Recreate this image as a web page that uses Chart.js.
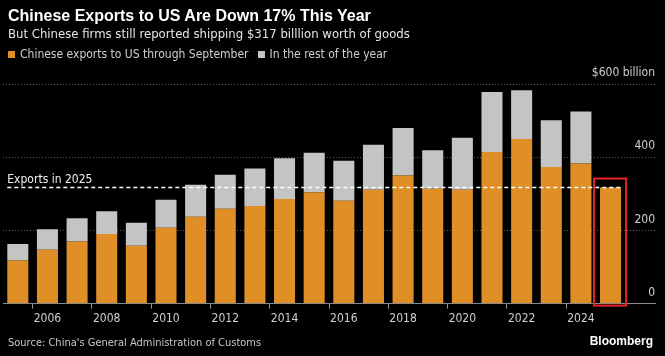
<!DOCTYPE html>
<html><head><meta charset="utf-8">
<script src="https://cdn.jsdelivr.net/npm/chart.js@4.4.1/dist/chart.umd.min.js"></script>
<style>
html,body{margin:0;padding:0;background:#000;}
#wrap{position:relative;width:665px;height:356px;background:#000;overflow:hidden;font-family:"Liberation Sans Narrow","DejaVu Sans Condensed","Roboto",sans-serif;}
#c{position:absolute;left:0;top:0;}
.t{position:absolute;white-space:nowrap;}
</style></head><body>
<div id="wrap">
<canvas id="c" width="665" height="356"></canvas>
<div class="t" style="left:8px;top:7px;font:bold 16px 'Liberation Sans',Arial,sans-serif;color:#fff;">Chinese Exports to US Are Down 17% This Year</div>
<div class="t" style="left:8px;top:26px;font-size:13px;color:#e6e6e6;">But Chinese firms still reported shipping $317 billlion worth of goods</div>
<div class="t" style="left:8px;top:47px;font-size:12px;color:#cfcfcf;"><span style="display:inline-block;width:7px;height:7px;background:#df8f26;margin-right:5px;"></span>Chinese exports to US through September<span style="display:inline-block;width:7px;height:7px;background:#c4c4c4;margin:0 5px 0 9px;"></span>In the rest of the year</div>
<div class="t" style="left:8px;top:336px;font-size:11px;color:#c8c8c8;">Source: China's General Administration of Customs</div>
<div class="t" style="right:12px;top:334px;font:bold 12px 'Liberation Sans',Arial,sans-serif;color:#fff;">Bloomberg</div>
</div>
<script>
const years = ['2005','2006','2007','2008','2009','2010','2011','2012','2013','2014','2015','2016','2017','2018','2019','2020','2021','2022','2023','2024','2025',''];
const throughSeptember = [118,147,170,190,158,207,237,259,267,286,304,281,311,350,314,311,414,450,373,383,317,null];
const restOfYear = [45,56,63,62,63,77,88,93,102,111,108,109,123,130,105,142,164,133,128,142,null,null];
const yTicks = [0,200,400,600];
const yTickLabels = ['0','200','400','$600 billion'];
const exports2025 = 317;
const FONT = '"Liberation Sans Narrow","DejaVu Sans Condensed",Roboto,sans-serif';

const overlay = {
  id:'overlay',
  afterDatasetsDraw(chart){
    const {ctx, scales:{x,y}} = chart;
    const meta = chart.getDatasetMeta(0);
    const first = meta.data[0], last = meta.data[20];
    const y317 = y.getPixelForValue(exports2025);
    ctx.save();
    ctx.strokeStyle = '#ffffff';
    ctx.lineWidth = 1.5;
    ctx.setLineDash([4,3]);
    ctx.beginPath();
    ctx.moveTo(first.x - first.width/2, y317);
    ctx.lineTo(last.x + last.width/2, y317);
    ctx.stroke();
    ctx.setLineDash([]);
    ctx.fillStyle = '#f0f0f0';
    ctx.font = '12px ' + FONT;
    ctx.textAlign = 'left';
    ctx.textBaseline = 'alphabetic';
    ctx.fillText('Exports in 2025', first.x - first.width/2, y317 - 5);
    ctx.strokeStyle = '#e8212a';
    ctx.lineWidth = 2;
    const bx0 = last.x - last.width/2 - 6, bx1 = last.x + last.width/2 + 5;
    ctx.strokeRect(bx0, y317 - 9, bx1 - bx0, y.getPixelForValue(0) + 2 - (y317 - 9));
    ctx.fillStyle = '#cfcfcf';
    ctx.font = '12px ' + FONT;
    ctx.textAlign = 'right';
    ctx.textBaseline = 'middle';
    yTicks.forEach((v,i)=>{
      ctx.fillText(yTickLabels[i], chart.chartArea.right, y.getPixelForValue(v) - 11);
    });
    ctx.restore();
  }
};

new Chart(document.getElementById('c'), {
  type:'bar',
  data:{
    labels: years,
    datasets:[
      {label:'Chinese exports to US through September', data: throughSeptember, backgroundColor:'#df8f26', categoryPercentage:1, barPercentage:0.71},
      {label:'In the rest of the year', data: restOfYear, backgroundColor:'#c4c4c4', categoryPercentage:1, barPercentage:0.71}
    ]
  },
  options:{
    responsive:false,
    animation:false,
    layout:{padding:{left:3, right:10, top:84, bottom:27}},
    plugins:{legend:{display:false}, tooltip:{enabled:false}},
    scales:{
      x:{
        stacked:true,
        grid:{drawOnChartArea:false, drawTicks:true, tickLength:5,
          color:(c)=> (c.index % 2 === 1 && c.index < 20) ? '#9a9a9a' : 'rgba(0,0,0,0)'},
        border:{display:true, color:'#8a8a8a', width:1},
        ticks:{autoSkip:false, maxRotation:0, color:'#cfcfcf', padding:3,
          font:{family:FONT, size:12},
          callback:(v,i)=> (i % 2 === 1 && i < 20) ? years[i] : ''}
      },
      y:{
        stacked:true, min:0, max:600, position:'right',
        afterBuildTicks:(s)=>{ s.ticks = yTicks.map(v=>({value:v})); },
        grid:{color:(c)=> c.tick && c.tick.value===0 ? 'rgba(0,0,0,0)' : '#5a5a5a', lineWidth:1, drawTicks:false},
        border:{display:false, dash:[1,2]},
        ticks:{display:false}
      }
    }
  },
  plugins:[overlay]
});
</script>
</body></html>
